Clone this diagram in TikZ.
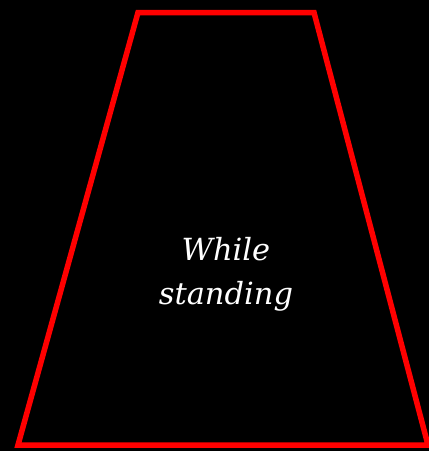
\documentclass[tikz,border=0pt]{standalone}
\usepackage{fontspec}
\setmainfont{DejaVu Serif}
\begin{document}
\begin{tikzpicture}[x=1pt,y=-1pt,
  shapeline/.style={draw=red,line width=5.5pt,line join=miter},
  label/.style={text=white,font=\itshape\fontsize{30.5}{44}\selectfont,align=center}]
\fill[black] (0,0) rectangle (429,451);
\useasboundingbox (0,0) rectangle (429,451);
\draw[shapeline] (138,12.5) -- (314,12.5) -- (428,445) -- (18,445) -- cycle;
\node[label] (t) at (226,274) {While\\standing};
\end{tikzpicture}
\end{document}
